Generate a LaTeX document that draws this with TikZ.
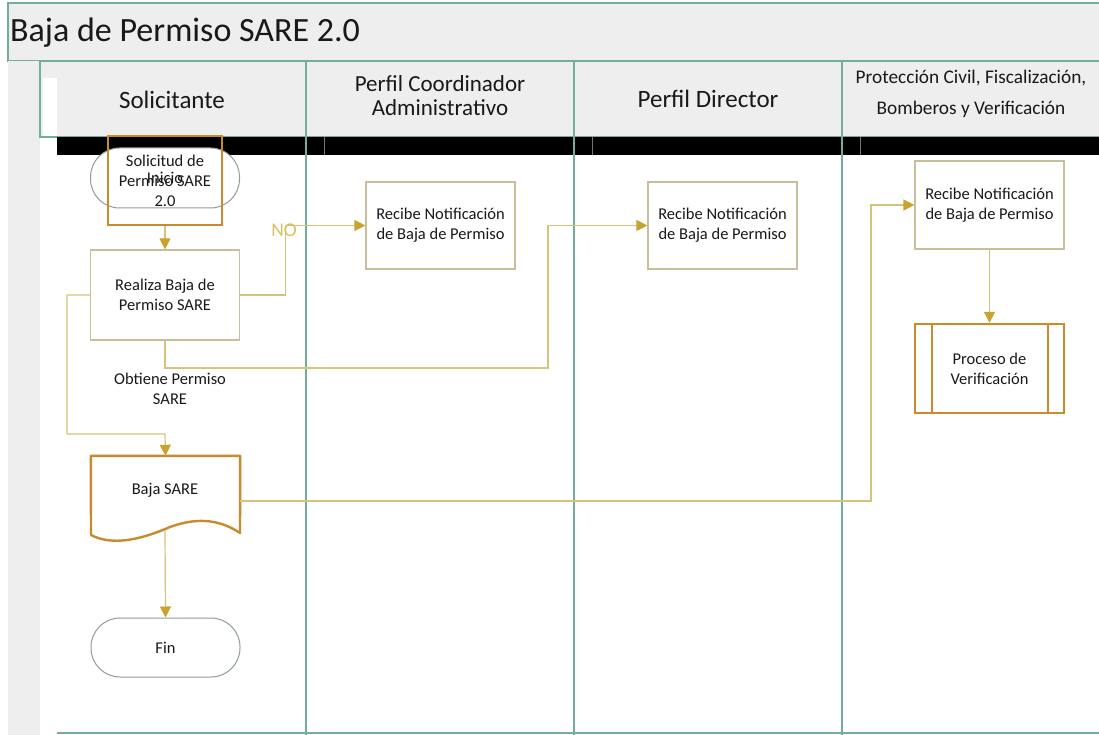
\documentclass[tikz,border=0pt]{standalone}
\usepackage{fontspec}
\setmainfont{Carlito}
\usetikzlibrary{arrows.meta,calc}
\definecolor{lanegreen}{HTML}{72AE98}
\definecolor{hdrgray}{HTML}{EEEEEE}
\definecolor{connline}{HTML}{D6C27A}
\definecolor{conntip}{HTML}{C9A330}
\definecolor{boxtan}{HTML}{C8BE9A}
\definecolor{orangeb}{HTML}{C98A2C}
\definecolor{termgray}{HTML}{8E9E9B}
\definecolor{notext}{HTML}{D8C060}
\begin{document}
\begin{tikzpicture}[x=1pt,y=-1pt,
  txt/.style={font=\fontsize{16.5}{20}\selectfont, align=center, text=black!90},
  taskbox/.style={txt, draw=boxtan, line width=1.2pt, fill=white, minimum width=149pt, minimum height=88pt, inner sep=0pt},
  termbox/.style={txt, draw=termgray, line width=1pt, fill=white, rounded corners=29pt, minimum width=149pt, minimum height=60pt, inner sep=0pt},
  orangebox/.style={draw=orangeb, line width=2.4pt, minimum width=114pt, minimum height=89pt, inner sep=0pt},
  conn/.style={draw=connline, line width=1.2pt, -{Triangle[length=11pt,width=11pt,color=conntip,fill=conntip]}},
  lane/.style={draw=lanegreen, line width=1.3pt},
  hdr/.style={align=center, text=black!90}
]
\useasboundingbox (0,0) rectangle (1099,735);
\fill[white] (0,0) rectangle (1099,735);
% title bar
\draw[lane, fill=hdrgray] (8,3) rectangle (1110,61);
\node[anchor=base west, font=\fontsize{34}{40}\selectfont, text=black!90, inner sep=0pt] (title) at (10,42) {Baja de Permiso SARE 2.0};
% left strip
\fill[hdrgray] (8,61) rectangle (40,735);
% header row
\draw[lane, fill=hdrgray] (40,61) rectangle (1110,137);
\fill[white] (43,78) rectangle (57,136);
% black band
\fill[black] (57,137) rectangle (1099,155);
\foreach \xx in {324,592,860} \draw[black!55, line width=0.6pt] (\xx,137) -- (\xx,155);
% lane lines
\foreach \xx in {306,574,842} \draw[lane] (\xx,61) -- (\xx,735);
\draw[lane] (57,733) -- (1099,733);
% header texts
\node[hdr, font=\fontsize{25}{28}\selectfont] (h1) at (172,100) {Solicitante};
\node[hdr, font=\fontsize{23}{24}\selectfont] (h2) at (440,96) {Perfil Coordinador\\Administrativo};
\node[hdr, font=\fontsize{25}{28}\selectfont] (h3) at (708,99) {Perfil Director};
\node[hdr, font=\fontsize{19.3}{31}\selectfont] (h4) at (971,94) {Protección Civil, Fiscalización,\\Bomberos y Verificación};
% nodes
\node[termbox, minimum height=60pt] (inicio) at (165,178) {Inicio};
\node[orangebox] (sol) at (165,180.5) {};
\node[txt] (soltxt) at (165,181) {Solicitud de\\Permiso SARE\\2.0};
\node[taskbox, minimum height=90pt] (realiza) at (165,295) {Realiza Baja de\\Permiso SARE};
\node[taskbox, minimum height=87pt] (rec1) at (440.5,225.5) {Recibe Notificación\\de Baja de Permiso};
\node[taskbox, minimum height=87pt] (rec2) at (722.5,225.5) {Recibe Notificación\\de Baja de Permiso};
\node[taskbox, minimum height=88pt] (rec3) at (989.5,205) {Recibe Notificación\\de Baja de Permiso};
% predefined process
\node[txt, draw=orangeb, line width=2.4pt, fill=white, minimum width=149pt, minimum height=89pt, inner sep=0pt] (proc) at (989.5,368.5) {Proceso de\\Verificación};
\draw[draw=orangeb, line width=2.4pt] ($(proc.north west)+(18,0)$) -- ($(proc.south west)+(18,0)$);
\draw[draw=orangeb, line width=2.4pt] ($(proc.north east)+(-17,0)$) -- ($(proc.south east)+(-17,0)$);
% document shape
\node[minimum width=149pt, minimum height=90pt, inner sep=0pt] (baja) at (165.5,501) {};
\draw[draw=orangeb, line width=2.4pt, fill=white, line join=round]
  (baja.north west) -- (baja.north east) -- (240,533)
  .. controls (222,521) and (200,516) .. (170,527)
  .. controls (140,540) and (112,546) .. (91,535) -- cycle;
\node[txt] (bajatxt) at (165,490) {Baja SARE};
\coordinate (bajabot) at (165,530);
\node[termbox, minimum height=59pt] (fin) at (165.5,647.5) {Fin};
% connectors
\draw[conn] (sol.south) -- (realiza.north);
\draw[conn] (realiza.east) -- ++(45,0) |- (rec1.west);
\node[font=\fontsize{19.5}{20}\selectfont, text=notext, inner sep=0pt] (nolbl) at (284,230) {NO};
\draw[conn] (realiza.south) |- (548,368) |- (rec2.west);
\draw[conn] (realiza.west) -- ++(-23,0) |- (165,434) -- (baja.north);
\node[txt] (obt) at (170,389) {Obtiene Permiso\\SARE};
\draw[conn] (baja.east) -- (871,501) |- (rec3.west);
\draw[conn] (rec3.south) -- (proc.north);
\draw[conn] (bajabot) -- (fin.north);
\end{tikzpicture}
\end{document}
